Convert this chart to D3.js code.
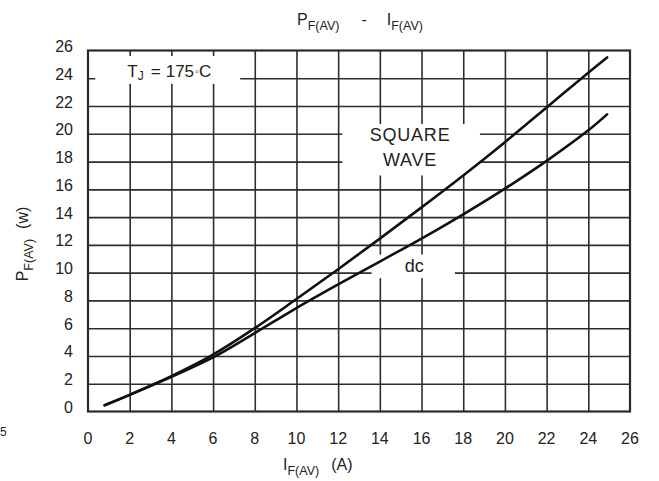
<!DOCTYPE html>
<html>
<head>
<meta charset="utf-8">
<script src="https://cdn.jsdelivr.net/npm/d3@7"></script>
<style>
  html, body { margin: 0; padding: 0; background: #fff; }
  svg { display: block; }
  text { font-family: "Liberation Sans", Arial, sans-serif; fill: #222; }
</style>
</head>
<body>
<svg id="chart" width="659" height="481"></svg>
<script>
// ---- data ----
const xTicks = [0, 2, 4, 6, 8, 10, 12, 14, 16, 18, 20, 22, 24, 26];
const yTicks = [0, 2, 4, 6, 8, 10, 12, 14, 16, 18, 20, 22, 24, 26];

const squareWaveI = [0.8, 2, 4, 6, 8, 10, 12, 14, 16, 18, 20, 22, 24, 24.9];
const squareWaveP = [0.45, 1.2, 2.55, 4.1, 6.0, 8.1, 10.25, 12.45, 14.7, 17.0, 19.4, 21.9, 24.4, 25.5];

const dcI = [0.8, 2, 4, 6, 8, 10, 12, 14, 16, 18, 20, 22, 24, 24.9];
const dcP = [0.45, 1.2, 2.5, 3.9, 5.65, 7.45, 9.15, 10.8, 12.45, 14.2, 16.05, 18.05, 20.25, 21.4];

// ---- layout ----
const svg = d3.select("#chart");
const x = d3.scaleLinear().domain([0, 26]).range([88, 630]);
const y = d3.scaleLinear().domain([0, 26]).range([411.5, 50.5]);
const gridColor = "#2e2e2e";

// gridlines
const gGrid = svg.append("g");
gGrid.append("g")
  .attr("transform", `translate(0,${y(0)})`)
  .call(d3.axisBottom(x).tickValues(xTicks.slice(1, -1)).tickSize(-(y(0) - y(26))).tickFormat(""))
  .call(g => g.select(".domain").remove())
  .call(g => g.selectAll("line").attr("stroke", gridColor).attr("stroke-width", 1.6));
gGrid.append("g")
  .attr("transform", `translate(${x(0)},0)`)
  .call(d3.axisLeft(y).tickValues(yTicks.slice(1, -1)).tickSize(-(x(26) - x(0))).tickFormat(""))
  .call(g => g.select(".domain").remove())
  .call(g => g.selectAll("line").attr("stroke", gridColor).attr("stroke-width", 1.6));

// white label backgrounds (in data units)
const boxes = [
  { i0: 0.35, i1: 7.3, p0: 23.6, p1: 25.6 },
  { i0: 12.2, i1: 18.8, p0: 17.0, p1: 20.7 },
  { i0: 13.6, i1: 17.6, p0: 9.6, p1: 11.3 }
];
svg.append("g").selectAll("rect").data(boxes).join("rect")
  .attr("x", d => x(d.i0)).attr("width", d => x(d.i1) - x(d.i0))
  .attr("y", d => y(d.p1)).attr("height", d => y(d.p0) - y(d.p1))
  .attr("fill", "#fff");

// border
svg.append("rect")
  .attr("x", x(0)).attr("y", y(26))
  .attr("width", x(26) - x(0)).attr("height", y(0) - y(26))
  .attr("fill", "none").attr("stroke", "#2a2a2a").attr("stroke-width", 2.2);

// curves
const line = d3.line().x(d => x(d[0])).y(d => y(d[1])).curve(d3.curveCatmullRom.alpha(0.5));
const sq = squareWaveI.map((v, i) => [v, squareWaveP[i]]);
const dc = dcI.map((v, i) => [v, dcP[i]]);
[sq, dc].forEach(s => {
  svg.append("path").datum(s).attr("d", line)
    .attr("fill", "none").attr("stroke", "#111").attr("stroke-width", 2.6)
    .attr("stroke-linecap", "round");
});

// tick labels
const tickSize = 16;
svg.append("g").selectAll("text").data(yTicks).join("text")
  .attr("x", 73).attr("y", d => y(d) - 4)
  .attr("text-anchor", "end").attr("dominant-baseline", "central")
  .attr("font-size", tickSize).text(d => d);
svg.append("g").selectAll("text").data(xTicks).join("text")
  .attr("x", d => x(d)).attr("y", 438)
  .attr("text-anchor", "middle").attr("dominant-baseline", "central")
  .attr("font-size", tickSize).text(d => d);

// helper for subscripted labels
function subLabel(t, main, sub, size, subSize, dxFirst) {
  const a = t.append("tspan").text(main).attr("font-size", size);
  if (dxFirst) a.attr("dx", dxFirst);
  t.append("tspan").text(sub).attr("font-size", subSize).attr("dy", size * 0.3);
}

// title
const title = svg.append("text").attr("x", 297).attr("y", 25).attr("text-anchor", "start");
subLabel(title, "P", "F(AV)", 16, 12.5);
title.append("tspan").text("-").attr("font-size", 16).attr("dy", -16 * 0.3).attr("dx", 22);
subLabel(title, "I", "F(AV)", 16, 12.5, 20);

// x axis title
const xt = svg.append("text").attr("x", 283).attr("y", 470).attr("text-anchor", "start");
subLabel(xt, "I", "F(AV)", 16, 12.5);
xt.append("tspan").text("(A)").attr("font-size", 16).attr("dy", -16 * 0.3).attr("dx", 12);

// y axis title
const yt = svg.append("text").attr("transform", "translate(28,244) rotate(-90)").attr("text-anchor", "middle");
subLabel(yt, "P", "F(AV)", 16, 12.5);
yt.append("tspan").text("(w)").attr("font-size", 16).attr("dy", -16 * 0.3).attr("dx", 10);

// annotations
const tj = svg.append("text").attr("x", x(3.9)).attr("y", y(24.5)).attr("text-anchor", "middle")
  .attr("dominant-baseline", "central").attr("font-size", 17);
tj.append("tspan").text("T");
tj.append("tspan").text("J").attr("font-size", 12).attr("dy", 5);
tj.append("tspan").text("=").attr("dy", -5).attr("dx", 7);
tj.append("tspan").text("175").attr("dx", 5);
tj.append("tspan").text("◦").attr("font-size", 11).attr("dx", 1);
tj.append("tspan").text("C");

svg.append("text").attr("x", x(15.45)).attr("y", y(19.9)).attr("text-anchor", "middle")
  .attr("dominant-baseline", "central").attr("font-size", 18).attr("letter-spacing", 0.8).text("SQUARE");
svg.append("text").attr("x", x(15.45)).attr("y", y(18.1)).attr("text-anchor", "middle")
  .attr("dominant-baseline", "central").attr("font-size", 18).attr("letter-spacing", 0.8).text("WAVE");
svg.append("text").attr("x", x(15.65)).attr("y", y(10.45)).attr("text-anchor", "middle")
  .attr("dominant-baseline", "central").attr("font-size", 18).text("dc");

// stray scan fragment at left edge
svg.append("text").attr("x", 0).attr("y", 432).attr("text-anchor", "start")
  .attr("dominant-baseline", "central").attr("font-size", 12).attr("fill", "#555").text("5");
</script>
</body>
</html>
